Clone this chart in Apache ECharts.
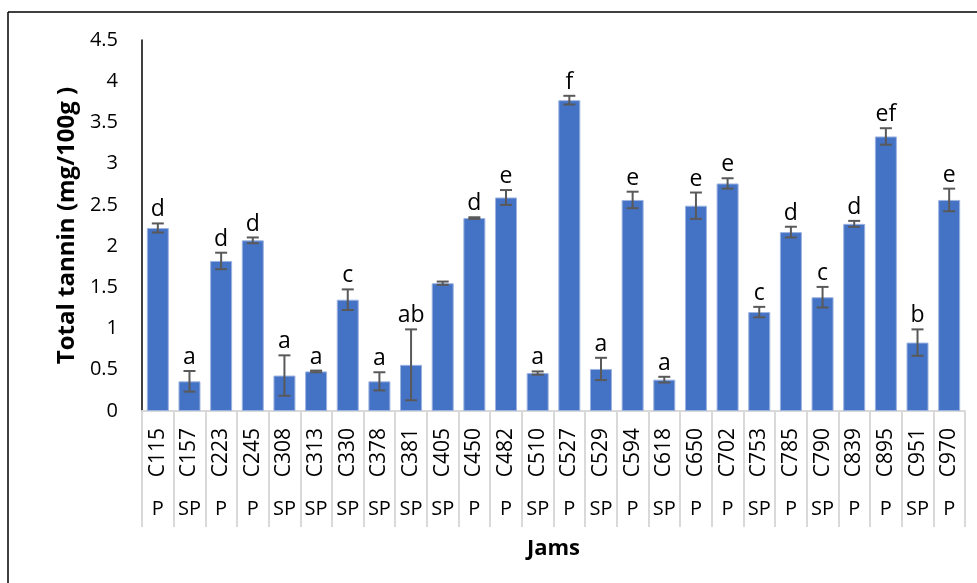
<!DOCTYPE html>
<html>
<head>
<meta charset="utf-8">
<script src="https://cdn.jsdelivr.net/npm/echarts@6/dist/echarts.min.js"></script>
<style>
  html, body { margin: 0; padding: 0; background: #fff; }
  #chart { width: 977px; height: 583px; }
</style>
</head>
<body>
<div id="chart"></div>
<script>
// Jam codes and product type (P / SP)
const codes = ['C115','C157','C223','C245','C308','C313','C330','C378','C381','C405','C450','C482','C510',
               'C527','C529','C594','C618','C650','C702','C753','C785','C790','C839','C895','C951','C970'];
const types = ['P','SP','P','P','SP','SP','SP','SP','SP','SP','P','P','SP',
               'P','SP','P','SP','P','P','SP','P','SP','P','P','SP','P'];
// Total tannin (mg/100g) and standard deviation
const tannin = [2.22,0.36,1.82,2.07,0.43,0.48,1.35,0.36,0.56,1.55,2.34,2.59,0.46,
                3.77,0.51,2.56,0.38,2.49,2.76,1.20,2.17,1.38,2.27,3.33,0.83,2.56];
const sd = [0.055,0.125,0.10,0.035,0.245,0.01,0.125,0.11,0.43,0.02,0.01,0.09,0.02,
            0.053,0.135,0.10,0.035,0.16,0.063,0.063,0.065,0.125,0.036,0.10,0.16,0.137];
// Significance letters
const letters = ['d','a','d','d','a','a','c','a','ab','','d','e','a',
                 'f','a','e','a','e','e','c','d','c','d','ef','b','e'];
// Y axis ticks
const yMin = 0, yMax = 4.5, yStep = 0.5;

const FONT = '"Open Sans", Lato, sans-serif';

const chart = echarts.init(document.getElementById('chart'), null, { renderer: 'canvas' });

chart.setOption({
  animation: false,
  backgroundColor: '#ffffff',
  grid: { left: 142, right: 12, top: 40, bottom: 172, containLabel: false },
  graphic: [
    { type: 'line', shape: { x1: 8, y1: 12, x2: 977, y2: 12 }, style: { stroke: '#404040', lineWidth: 2 } },
    { type: 'line', shape: { x1: 8, y1: 12, x2: 8, y2: 583 }, style: { stroke: '#000000', lineWidth: 1.5 } }
  ],
  xAxis: [
    {
      type: 'category',
      data: codes,
      position: 'bottom',
      name: 'Jams',
      nameLocation: 'middle',
      nameGap: 127,
      nameTextStyle: { fontFamily: FONT, fontSize: 22, fontWeight: 'bold', color: '#000' },
      axisLine: { show: true, lineStyle: { color: '#d9d9d9', width: 2 } },
      axisTick: { show: true, interval: 0, length: 116, lineStyle: { color: '#d9d9d9', width: 2 } },
      axisLabel: { interval: 0, rotate: 90, margin: 17, fontFamily: FONT, fontSize: 21, color: '#000' }
    },
    {
      type: 'category',
      data: types,
      position: 'bottom',
      axisLine: { show: false },
      axisTick: { show: false },
      axisLabel: { interval: 0, margin: 88, fontFamily: FONT, fontSize: 20, color: '#000' }
    }
  ],
  yAxis: {
    type: 'value',
    min: yMin,
    max: yMax,
    interval: yStep,
    name: 'Total tannin (mg/100g )',
    nameLocation: 'middle',
    nameGap: 62,
    nameTextStyle: { fontFamily: FONT, fontSize: 24, fontWeight: 'bold', color: '#000' },
    axisLine: { show: true, lineStyle: { color: '#000', width: 1.5 } },
    axisTick: { show: false },
    splitLine: { show: false },
    axisLabel: { margin: 24, fontFamily: FONT, fontSize: 20, color: '#000' }
  },
  series: [
    {
      type: 'bar',
      xAxisIndex: 0,
      data: tannin,
      barWidth: 22,
      itemStyle: { color: '#4472C4', borderColor: '#9db3e0', borderWidth: 1 }
    },
    {
      type: 'custom',
      xAxisIndex: 0,
      z: 5,
      data: tannin.map((v, i) => [i, v, sd[i]]),
      renderItem: function (params, api) {
        const i = api.value(0), v = api.value(1), e = api.value(2);
        const top = api.coord([i, v + e]);
        const bot = api.coord([i, v - e]);
        const x = top[0], hw = 6;
        const st = { stroke: '#595959', lineWidth: 2 };
        return {
          type: 'group',
          children: [
            { type: 'line', shape: { x1: x, y1: top[1], x2: x, y2: bot[1] }, style: st },
            { type: 'line', shape: { x1: x - hw, y1: top[1], x2: x + hw, y2: top[1] }, style: st },
            { type: 'line', shape: { x1: x - hw, y1: bot[1], x2: x + hw, y2: bot[1] }, style: st },
            {
              type: 'text',
              style: {
                text: letters[params.dataIndex],
                x: x, y: top[1] - 2,
                textAlign: 'center', textVerticalAlign: 'bottom',
                font: '23px ' + FONT, fill: '#000'
              }
            }
          ]
        };
      }
    }
  ]
});
</script>
</body>
</html>
